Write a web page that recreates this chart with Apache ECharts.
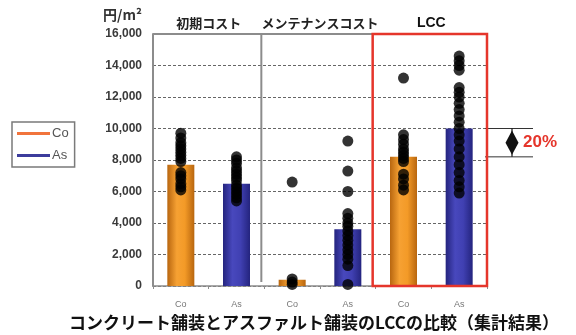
<!DOCTYPE html>
<html>
<head>
<meta charset="utf-8">
<script src="https://cdn.jsdelivr.net/npm/echarts@6/dist/echarts.min.js"></script>
<style>
  html, body { margin: 0; padding: 0; background: #fff; }
  #chart { width: 576px; height: 335px; }
</style>
</head>
<body>
<div id="chart"></div>
<script>
// ---- data ----
const categories = ['Co', 'As', 'Co', 'As', 'Co', 'As'];
const panelTitles = ['初期コスト', 'メンテナンスコスト', 'LCC'];
const coBars = [7700, null, 400, null, 8200, null];
const asBars = [null, 6500, null, 3600, null, 10000];

// individual results (円/m²) per category
const initialCoDots = [9700, 9400, 9100, 8900, 8700, 8500, 8300, 8100, 7900, 7200, 7000, 6800, 6500, 6300, 6100];
const initialAsDots = [8200, 8000, 7800, 7500, 7300, 7100, 6900, 6700, 6400, 6200, 6000, 5800, 5600, 5400];
const maintCoDots = [6600, 450, 250, 100];
const maintAsDots = [9200, 7300, 6000, 4600, 4300, 4000, 3800, 3500, 3200, 2900, 2600, 2300, 2000, 1700, 1300, 100];
const lccCoDots = [13200, 9600, 9300, 9000, 8700, 8500, 8300, 8100, 7900, 7100, 6800, 6400, 6100];
const lccAsDots = [14600, 14300, 14000, 13700, 12600, 12300, 12000, 11600, 11200, 10800, 10400, 10000, 9600, 9200, 8700, 8200, 7700, 7200, 6700, 6300, 5900];

const dotGroups = [initialCoDots, initialAsDots, maintCoDots, maintAsDots, lccCoDots, lccAsDots];
const diffLabel = '20%';

// ---- styles ----
const JP = '"Noto Sans CJK JP", "Noto Sans", sans-serif';
const orangeFill = new echarts.graphic.LinearGradient(0, 0, 1, 0, [
  { offset: 0, color: '#b8660f' },
  { offset: 0.35, color: '#f6a133' },
  { offset: 0.65, color: '#f39a27' },
  { offset: 1, color: '#b8660f' }
]);
const blueFill = new echarts.graphic.LinearGradient(0, 0, 1, 0, [
  { offset: 0, color: '#24247e' },
  { offset: 0.35, color: '#4848bd' },
  { offset: 0.65, color: '#4040b2' },
  { offset: 1, color: '#24247e' }
]);

const scatterData = [];
dotGroups.forEach((vals, i) => vals.forEach(v => scatterData.push([i, v])));

const chart = echarts.init(document.getElementById('chart'), null, { renderer: 'canvas' });

const option = {
  animation: false,
  backgroundColor: '#fff',
  grid: { left: 153, right: 89, top: 34, bottom: 49 },
  legend: {
    orient: 'vertical',
    left: 12,
    top: 122,
    padding: [5, 6, 5, 5],
    itemWidth: 33,
    itemHeight: 3,
    itemGap: 9,
    borderColor: '#7a7a7a',
    borderWidth: 1.5,
    textStyle: { fontSize: 13, color: '#555', fontFamily: 'Liberation Sans, Arial, sans-serif', padding: [0, 0, 0, -3] },
    data: [
      { name: 'Co', icon: 'rect', itemStyle: { color: '#f1743c' } },
      { name: 'As', icon: 'rect', itemStyle: { color: '#3c3c9c' } }
    ]
  },
  xAxis: [
    {
      type: 'category',
      data: categories,
      position: 'bottom',
      axisLine: { lineStyle: { color: '#8c8c8c', width: 1.5 } },
      axisTick: { show: true, length: 3, lineStyle: { color: '#8c8c8c' } },
      axisLabel: { interval: 0, margin: 14, fontSize: 9, color: '#777', fontFamily: 'Liberation Sans, Arial, sans-serif' },
      splitLine: { show: false }
    },
    {
      type: 'value',
      min: 0,
      max: 6,
      show: false
    },
    {
      type: 'category',
      data: panelTitles,
      position: 'top',
      axisLine: { show: false },
      axisTick: { show: false },
      axisLabel: {
        interval: 0,
        hideOverlap: false,
        margin: 4,
        fontSize: 13,
        fontWeight: 'bold',
        color: '#222',
        fontFamily: JP,
        formatter: v => (v === 'LCC' ? '{b|' + v + '}' : v),
        rich: { b: { fontSize: 14, fontWeight: 'bold', color: '#111', fontFamily: 'Liberation Sans, Arial, sans-serif' } }
      }
    }
  ],
  yAxis: {
    type: 'value',
    min: 0,
    max: 16000,
    interval: 2000,
    axisLine: { show: true, lineStyle: { color: '#8c8c8c', width: 2 } },
    axisTick: { show: false },
    axisLabel: {
      margin: 11,
      fontSize: 12,
      fontWeight: 'bold',
      color: '#3a3a3a',
      fontFamily: 'Liberation Sans, Arial, sans-serif',
      formatter: v => String(v).replace(/\B(?=(\d{3})+(?!\d))/g, ',')
    },
    splitLine: { show: true, lineStyle: { color: '#666', width: 1, type: [3, 2] } }
  },
  series: [
    {
      name: 'Co',
      type: 'bar',
      xAxisIndex: 0,
      barWidth: 27,
      barGap: '-100%',
      data: coBars,
      itemStyle: { color: orangeFill },
      z: 2
    },
    {
      name: 'As',
      type: 'bar',
      xAxisIndex: 0,
      barWidth: 27,
      barGap: '-100%',
      data: asBars,
      itemStyle: { color: blueFill },
      z: 2
    },
    {
      name: 'results',
      type: 'scatter',
      xAxisIndex: 0,
      symbol: 'circle',
      symbolSize: 11,
      data: scatterData,
      itemStyle: { color: '#000' },
      z: 4
    }
  ]
};

chart.setOption(option);

// ---- panel frames and the LCC difference marker ----
function px(x, y) {
  return chart.convertToPixel({ xAxisIndex: 1, yAxisIndex: 0 }, [x, y]);
}
const topLeft = px(0, 16000);
const bottomRight = px(6, 0);
const div1 = px(2, 0)[0] - 3;
const div2 = px(4, 0)[0] - 3;
const yTop = topLeft[1];
const yBot = bottomRight[1];
const xRight = bottomRight[0];

const yCo = chart.convertToPixel({ yAxisIndex: 0 }, coBars[4]);
const yAs = chart.convertToPixel({ yAxisIndex: 0 }, asBars[5]);
const arrowX = xRight + 25;
const midY = (yCo + yAs) / 2;

chart.setOption({
  graphic: [
    // gray frame of first two panels
    { type: 'polyline', z: 10, shape: { points: [[topLeft[0], yTop], [div2, yTop]] }, style: { stroke: '#8c8c8c', lineWidth: 2, fill: null } },
    { type: 'line', z: 10, shape: { x1: div1, y1: yTop, x2: div1, y2: yBot - 4 }, style: { stroke: '#8c8c8c', lineWidth: 2 } },
    // red frame of LCC panel
    { type: 'rect', z: 11, shape: { x: div2, y: yTop, width: xRight - div2, height: yBot - yTop }, style: { stroke: '#e5352b', lineWidth: 2.5, fill: null } },
    // difference marker
    { type: 'line', z: 10, shape: { x1: xRight - 2, y1: yAs, x2: xRight + 46, y2: yAs }, style: { stroke: '#333', lineWidth: 1 } },
    { type: 'line', z: 10, shape: { x1: xRight - 2, y1: yCo, x2: xRight + 46, y2: yCo }, style: { stroke: '#333', lineWidth: 1 } },
    { type: 'line', z: 10, shape: { x1: arrowX, y1: yAs, x2: arrowX, y2: yCo }, style: { stroke: '#111', lineWidth: 1.2 } },
    { type: 'polygon', z: 10, shape: { points: [[arrowX, yAs + 2], [arrowX + 6.5, midY], [arrowX, yCo - 2], [arrowX - 6.5, midY]] }, style: { fill: '#111' } },
    { type: 'text', z: 10, x: xRight + 36, y: midY, style: { text: diffLabel, fill: '#e5352b', font: 'bold 17px "Liberation Sans", Arial, sans-serif', verticalAlign: 'middle', align: 'left' } },
    // unit and caption
    { type: 'text', z: 10, x: 103, y: 15, style: { text: '円/m²', fill: '#333', font: 'bold 14px ' + JP, verticalAlign: 'middle', align: 'left' } },
    { type: 'text', z: 10, x: 314, y: 323, style: { text: 'コンクリート舗装とアスファルト舗装のLCCの比較（集計結果）', fill: '#111', font: 'bold 17px ' + JP, verticalAlign: 'middle', align: 'center' } }
  ]
});
</script>
</body>
</html>
